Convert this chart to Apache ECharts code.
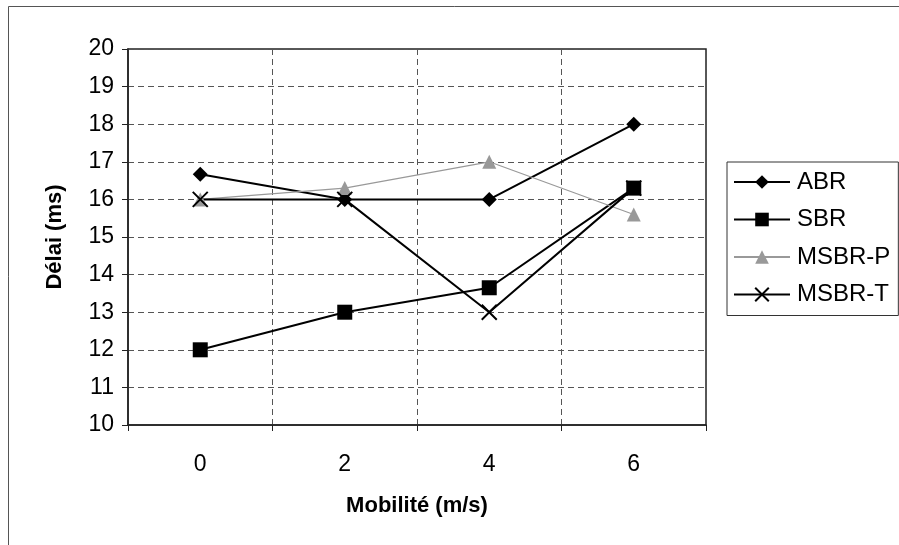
<!DOCTYPE html>
<html>
<head>
<meta charset="utf-8">
<script src="https://cdn.jsdelivr.net/npm/echarts@6/dist/echarts.min.js"></script>
<style>
  html, body { margin: 0; padding: 0; background: #fff; }
  #chart { width: 899px; height: 545px; }
</style>
</head>
<body>
<div id="chart"></div>
<script>
// données
const mobilite = ["0", "2", "4", "6"];
const abr = [16.67, 16, 16, 18];
const sbr = [12, 13, 13.65, 16.3];
const msbrP = [16, 16.3, 17, 15.6];
const msbrT = [16, 16, 13, 16.3];

const chart = echarts.init(document.getElementById("chart"));
const font = "Liberation Sans, Arial, sans-serif";
const crossPath = "path://M0,0L10,10M10,0L0,10";

const option = {
  animation: false,
  backgroundColor: "#fff",
  textStyle: { fontFamily: font },
  graphic: [
    {
      type: "rect",
      shape: { x: 8.5, y: 6.5, width: 900, height: 540 },
      style: { fill: "none", stroke: "#555", lineWidth: 1 },
    },
  ],
  grid: {
    left: 128,
    right: 193,
    top: 49,
    bottom: 120,
    show: true,
    borderColor: "#222",
    borderWidth: 1.5,
  },
  legend: {
    orient: "vertical",
    left: 727,
    top: 162,
    padding: [8, 8, 9, 6],
    itemGap: 13.5,
    itemWidth: 56,
    itemHeight: 17,
    borderColor: "#333",
    borderWidth: 1,
    borderRadius: 0,
    textStyle: {
      fontSize: 24,
      lineHeight: 24,
      color: "#000",
      fontFamily: font,
      padding: [0, 0, 0, 2],
    },
    data: ["ABR", "SBR", "MSBR-P", "MSBR-T"],
  },
  xAxis: {
    type: "category",
    data: mobilite,
    boundaryGap: true,
    name: "Mobilité (m/s)",
    nameLocation: "middle",
    nameGap: 70,
    nameTextStyle: { fontSize: 22, fontWeight: "bold", color: "#000" },
    axisLine: { lineStyle: { color: "#222", width: 1.5 } },
    axisTick: { show: true, length: 6, lineStyle: { color: "#222" } },
    axisLabel: { fontSize: 23, color: "#000", margin: 28 },
    splitLine: {
      show: true,
      lineStyle: { color: "#555", type: [6, 4], width: 1 },
    },
  },
  yAxis: {
    type: "value",
    min: 10,
    max: 20,
    interval: 1,
    name: "Délai (ms)",
    nameLocation: "middle",
    nameGap: 62,
    nameTextStyle: { fontSize: 22, fontWeight: "bold", color: "#000" },
    axisLine: { show: true, lineStyle: { color: "#222", width: 1.5 } },
    axisTick: { show: true, length: 6, lineStyle: { color: "#222" } },
    axisLabel: { fontSize: 23, color: "#000", margin: 14 },
    splitLine: {
      show: true,
      lineStyle: { color: "#555", type: [6, 4], width: 1 },
    },
  },
  series: [
    {
      name: "ABR",
      type: "line",
      data: abr,
      symbol: "diamond",
      symbolSize: 15,
      lineStyle: { color: "#000", width: 2 },
      itemStyle: { color: "#000" },
    },
    {
      name: "SBR",
      type: "line",
      data: sbr,
      symbol: "rect",
      symbolSize: 15,
      lineStyle: { color: "#000", width: 2 },
      itemStyle: { color: "#000" },
    },
    {
      name: "MSBR-P",
      type: "line",
      data: msbrP,
      symbol: "triangle",
      symbolSize: 14,
      lineStyle: { color: "#999", width: 1.2 },
      itemStyle: { color: "#999" },
    },
    {
      name: "MSBR-T",
      type: "line",
      data: msbrT,
      symbol: crossPath,
      symbolSize: 15,
      lineStyle: { color: "#000", width: 2 },
      itemStyle: { color: "none", borderColor: "#000", borderWidth: 2 },
    },
  ],
};

chart.setOption(option);
</script>
</body>
</html>
